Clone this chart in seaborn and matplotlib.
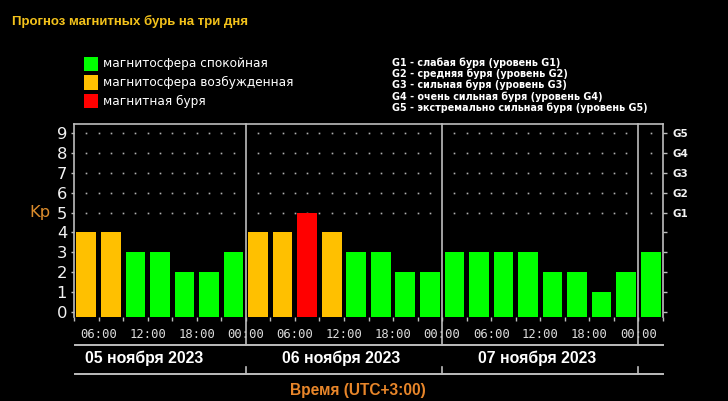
import matplotlib
matplotlib.use("Agg")
import matplotlib.pyplot as plt
from matplotlib.patches import Rectangle
import numpy as np
import pandas as pd
import seaborn as sns

# ---------------- data ----------------
slot_hours = [4.5, 7.5, 10.5, 13.5, 16.5, 19.5, 22.5,
              25.5, 28.5, 31.5, 34.5, 37.5, 40.5, 43.5, 46.5,
              49.5, 52.5, 55.5, 58.5, 61.5, 64.5, 67.5, 70.5,
              73.5]
kp_values = [4, 4, 3, 3, 2, 2, 3,
             4, 4, 5, 4, 3, 3, 2, 2,
             3, 3, 3, 3, 2, 2, 1, 2,
             3]
level_names = ["магнитосфера спокойная", "магнитосфера возбужденная", "магнитная буря"]
level_colors = ["#00ff00", "#ffc000", "#ff0000"]
day_labels = ["05 ноября 2023", "06 ноября 2023", "07 ноября 2023"]
day_centers = [12, 36, 60]
day_bounds = [24, 48, 72]
xtick_pos = [6, 12, 18, 24, 30, 36, 42, 48, 54, 60, 66, 72]
xtick_labels = ["06:00", "12:00", "18:00", "00:00",
                "06:00", "12:00", "18:00", "00:00",
                "06:00", "12:00", "18:00", "00:00"]
ytick_labels = ["0", "1", "2", "3", "4", "5", "6", "7", "8", "9"]
g_labels = ["", "", "", "", "", "G1", "G2", "G3", "G4", "G5"]
g_legend = ["G1 - слабая буря (уровень G1)",
            "G2 - средняя буря (уровень G2)",
            "G3 - сильная буря (уровень G3)",
            "G4 - очень сильная буря (уровень G4)",
            "G5 - экстремально сильная буря (уровень G5)"]
title = "Прогноз магнитных бурь на три дня"
xlabel = "Время (UTC+3:00)"


def level_of(v):
    if v >= 5:
        return level_names[2]
    if v == 4:
        return level_names[1]
    return level_names[0]


df = pd.DataFrame({"hour": slot_hours, "kp": kp_values})
df["level"] = [level_of(v) for v in kp_values]

# ---------------- figure ----------------
W, H = 728, 401
fig = plt.figure(figsize=(W / 100, H / 100), dpi=100, facecolor="black")

def fx(px):
    return px / W

def fy(py):
    return 1 - py / H

ax_l, ax_r, ax_t, ax_b = 74, 663, 124, 317
ax = fig.add_axes([fx(ax_l), fy(ax_b), fx(ax_r - ax_l), (ax_b - ax_t) / H])
ax.set_facecolor("black")

sns.barplot(data=df, x="hour", y="kp", hue="level",
            hue_order=level_names, palette=dict(zip(level_names, level_colors)),
            native_scale=True, width=0.8, dodge=False, saturation=1,
            legend=False, linewidth=0, ax=ax)

y0 = -0.25
for p in ax.patches:
    h = p.get_height()
    p.set_y(y0)
    p.set_height(h - y0)

ax.set_xlim(3, 75)
ax.set_ylim(y0, 9.45)

frame_col = "#bdbdbd"
for s in ["top", "left", "right"]:
    ax.spines[s].set_color(frame_col)
    ax.spines[s].set_linewidth(1.2)
ax.spines["bottom"].set_visible(False)

# dotted grid at levels 5..9
dot_x = [x for x in np.arange(4.5, 75, 1.5) if x % 24 != 0]
for lev in range(5, 10):
    ax.plot(dot_x, [lev] * len(dot_x), linestyle="none", marker="s",
            markersize=1.2, color="#b0b0b0", markeredgewidth=0, zorder=0.5)

# x ticks
ax.set_xticks(xtick_pos)
ax.set_xticklabels(xtick_labels, fontfamily="DejaVu Sans Mono", fontsize=8.8, color="#dcdcdc")
ax.set_xticks(np.arange(3, 76, 3), minor=True)
ax.tick_params(axis="x", which="both", direction="out", length=3, width=1,
               color=frame_col, pad=5)
ax.set_xlabel("")
ax.set_ylabel("")

# y ticks left
ax.set_yticks(range(10))
ax.set_yticklabels(ytick_labels, fontfamily="DejaVu Sans", fontsize=11.8, color="#f2f2f2")
ax.tick_params(axis="y", direction="out", length=2, width=1, color=frame_col, pad=3)

# right G axis
ax2 = ax.twinx()
ax2.set_ylim(ax.get_ylim())
ax2.set_yticks(range(10))
ax2.set_yticklabels(g_labels, fontfamily="DejaVu Sans", fontweight="bold",
                    fontsize=7.5, color="#f2f2f2")
ax2.tick_params(axis="y", direction="out", length=3, width=1, color=frame_col, pad=4)
for s in ax2.spines.values():
    s.set_visible(False)

# day boundary lines and date band
y_line1 = -(345 - ax_b) / (ax_b - ax_t)
y_line2 = -(374 - ax_b) / (ax_b - ax_t)
y_tick2 = -(367 - ax_b) / (ax_b - ax_t)
y_date = -(358 - ax_b) / (ax_b - ax_t)
trans = ax.get_xaxis_transform()
for xb in day_bounds:
    ax.axvline(xb, ymin=y_line1, ymax=1, color=frame_col, lw=1.2, clip_on=False, zorder=3)
    ax.plot([xb, xb], [y_tick2, y_line2], transform=trans,
            color=frame_col, lw=1.2, clip_on=False)

for yl in (y_line1, y_line2):
    ax.plot([3.1, 75], [yl, yl], transform=trans, color=frame_col, lw=1.4, clip_on=False)

for xc, lab in zip(day_centers, day_labels):
    ax.text(xc - 0.4, y_date, lab, transform=trans, ha="center", va="center",
            fontsize=11.4, fontweight="bold", color="white",
            family=["Liberation Sans", "DejaVu Sans"])

# Kp label
fig.text(fx(40), fy(213), "Kp", ha="center", va="center", fontsize=11.8,
         color="#dc8c2c", family="DejaVu Sans")

# x axis title
fig.text(fx(358), fy(391), xlabel, ha="center", va="center", fontsize=11.2,
         fontweight="bold", color="#e8862a",
         family=["Liberation Sans", "DejaVu Sans"])

# title
fig.text(fx(12), fy(21), title, ha="left", va="center", fontsize=9.5,
         fontweight="bold", color="#f3c21b", family=["Liberation Sans", "DejaVu Sans"])

# legend of levels
leg_y = [64, 82.5, 101]
for yy, name, col in zip(leg_y, level_names, level_colors):
    fig.patches.append(Rectangle((fx(84), fy(yy + 7)), 14 / W, 14 / H,
                                 transform=fig.transFigure, facecolor=col,
                                 edgecolor="none"))
    fig.text(fx(103), fy(yy), name, ha="left", va="center", fontsize=8.7,
             color="white", family="DejaVu Sans")

# G legend
g_y = [62.7, 73.8, 85, 96.5, 108]
for yy, txt in zip(g_y, g_legend):
    fig.text(fx(392), fy(yy), txt, ha="left", va="center", fontsize=6.9,
             fontweight="bold", color="white", family="DejaVu Sans")

fig.savefig("out.png", dpi=100, facecolor="black")
